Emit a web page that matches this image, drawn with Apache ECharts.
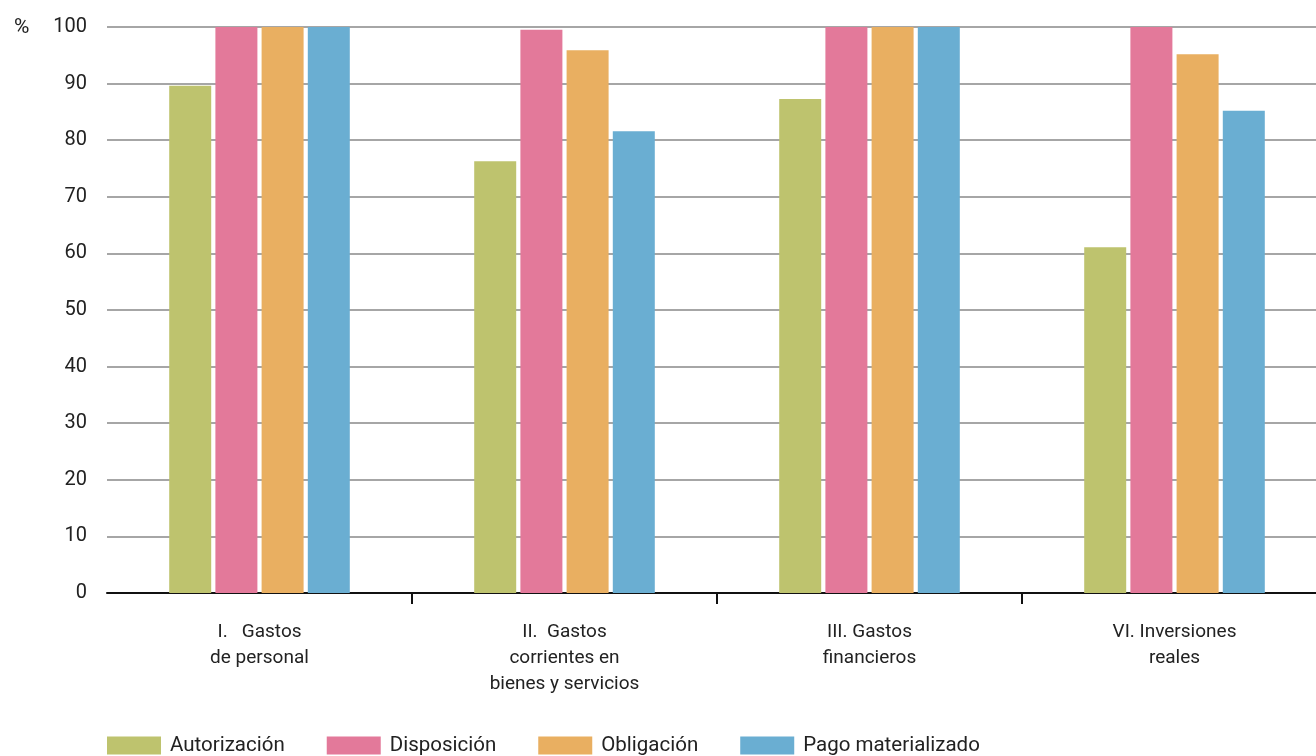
<!DOCTYPE html>
<html>
<head>
<meta charset="utf-8">
<script src="https://cdn.jsdelivr.net/npm/echarts@6/dist/echarts.min.js"></script>
<style>
html,body{margin:0;padding:0;background:#fff;overflow:hidden;}
#chart{width:1327px;height:756px;}
</style>
</head>
<body>
<div id="chart"></div>
<script>
const categories = ['I.   Gastos\nde personal', 'II.  Gastos\ncorrientes en\nbienes y servicios', 'III. Gastos\nfinancieros', 'VI. Inversiones\nreales'];
const seriesNames = ['Autorización', 'Disposición', 'Obligación', 'Pago materializado'];
const autorizacion = [89.6, 76.3, 87.3, 61.1];
const disposicion = [100, 99.5, 100, 100];
const obligacion = [100, 95.9, 100, 95.2];
const pago = [100, 81.6, 100, 85.2];
const colors = ['#BEC36E', '#E3799A', '#E9AF61', '#6AAED2'];
const FONT = 'Roboto, "Noto Sans", sans-serif';

const chart = echarts.init(document.getElementById('chart'));
const dataSets = [autorizacion, disposicion, obligacion, pago];
chart.setOption({
  animation: false,
  textStyle: { fontFamily: FONT },
  grid: { left: 107, top: 27, right: 0, height: 566 },
  legend: {
    left: 107, top: 735, padding: 0,
    itemWidth: 54, itemHeight: 18, itemGap: 42,
    icon: 'rect',
    textStyle: { fontFamily: FONT, fontSize: 20.5, color: '#222', padding: [0, 0, 0, 4] },
    data: seriesNames
  },
  graphic: [{
    type: 'text', left: 14, top: 17,
    style: { text: '%', font: '21px ' + FONT, fill: '#222' }
  }],
  xAxis: {
    type: 'category',
    data: categories,
    axisLine: { lineStyle: { color: '#111', width: 2 } },
    axisTick: { show: true, length: 11, lineStyle: { color: '#111', width: 2 },
      interval: function (i) { return i > 0; } },
    axisLabel: { fontFamily: FONT, fontSize: 19, color: '#222', lineHeight: 26, margin: 26 }
  },
  yAxis: {
    type: 'value', min: 0, max: 100, interval: 10,
    axisLine: { show: false },
    axisTick: { show: false },
    splitLine: { lineStyle: { color: '#a6a6a6', width: 2 } },
    axisLabel: { fontFamily: FONT, fontSize: 20, color: '#222', margin: 20 }
  },
  series: seriesNames.map((n, i) => ({
    name: n, type: 'bar', data: dataSets[i],
    barWidth: 42, barGap: '10%',
    itemStyle: { color: colors[i] }
  }))
});
</script>
</body>
</html>
